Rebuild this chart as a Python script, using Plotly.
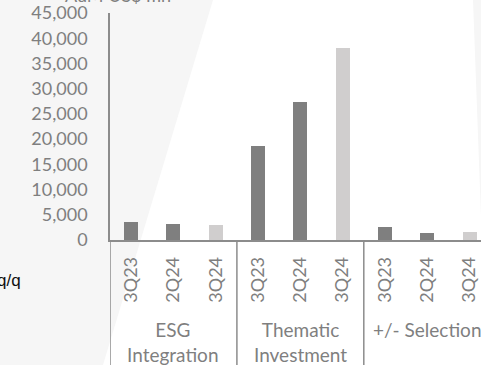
import plotly.graph_objects as go

# Chart data
groups = ["ESG<br>Integration", "Thematic<br>Investment", "+/- Selection"]
periods = ["3Q23", "2Q24", "3Q24"]
esg_integration = [3530, 3270, 3070]
thematic_investment = [18540, 27260, 38160]
selection = [2480, 1290, 1490]
y_ticks = [0, 5000, 10000, 15000, 20000, 25000, 30000, 35000, 40000, 45000]

values = esg_integration + thematic_investment + selection
labels = periods * len(groups)
x_idx = list(range(len(values)))

DARK = "#7f7f7f"
LIGHT = "#d0cece"
TEXT = "#7f7f7f"
AXIS = "#8c8c8c"
FONT = "Lato"

W, H = 481, 365
ML, MT, MB = 110, 13, 125
PW = W - ML
PH = H - MT - MB
CAT_W = 42.3


def px(x):
    return (x - ML) / PW


def py(y):
    return (H - MB - y) / PH


colors = [LIGHT if p == "3Q24" else DARK for p in labels]

fig = go.Figure(
    go.Bar(
        x=x_idx,
        y=values,
        width=0.33,
        marker=dict(color=colors, line=dict(width=0)),
        hoverinfo="skip",
    )
)

shapes = [
    # white backdrop panel
    dict(
        type="path",
        xref="paper",
        yref="paper",
        path=(
            f"M {px(213)} {py(0)} L {px(473)} {py(0)} L {px(481)} {py(217)} "
            f"L {px(481)} {py(365)} L {px(103)} {py(365)} Z"
        ),
        fillcolor="white",
        line=dict(width=0),
        layer="below",
    )
]
# category-group dividers below the axis
for xv in [-0.5, 2.5, 5.5]:
    shapes.append(
        dict(
            type="line",
            xref="x",
            yref="paper",
            x0=xv,
            x1=xv,
            y0=0,
            y1=py(H + 2),
            line=dict(color=AXIS, width=1.5),
        )
    )

annotations = []
for gi, g in enumerate(groups):
    annotations.append(
        dict(
            x=gi * 3 + 1,
            xref="x",
            y=py(316),
            yref="paper",
            yanchor="top",
            xanchor="center",
            text=g,
            showarrow=False,
            align="center",
            font=dict(family=FONT, size=19, color=TEXT),
        )
    )
annotations.append(
    dict(
        x=px(23),
        xref="paper",
        y=py(280),
        yref="paper",
        xanchor="right",
        yanchor="middle",
        text="q/q",
        showarrow=False,
        font=dict(family="Liberation Sans", size=17, color="#111111"),
    )
)
annotations.append(
    dict(
        x=px(63),
        xref="paper",
        y=py(8),
        yref="paper",
        xanchor="left",
        yanchor="bottom",
        text="AuM US$ mn",
        showarrow=False,
        font=dict(family=FONT, size=18, color=TEXT),
    )
)

fig.update_layout(
    width=W,
    height=H,
    margin=dict(l=ML, r=0, t=MT, b=MB, pad=0),
    paper_bgcolor="#f6f6f6",
    plot_bgcolor="rgba(0,0,0,0)",
    showlegend=False,
    shapes=shapes,
    annotations=annotations,
    bargap=0,
)
fig.update_xaxes(
    range=[-0.5, -0.5 + PW / CAT_W],
    tickmode="array",
    tickvals=x_idx,
    ticktext=labels,
    tickangle=-90,
    ticks="",
    ticklabelstandoff=8,
    tickfont=dict(family=FONT, size=18, color=TEXT),
    showline=True,
    linecolor=AXIS,
    linewidth=1.5,
    showgrid=False,
    zeroline=False,
)
fig.update_yaxes(
    range=[0, 45000],
    tickmode="array",
    tickvals=y_ticks,
    ticktext=[f"{v:,}" for v in y_ticks],
    ticks="",
    ticklabelstandoff=17,
    tickfont=dict(family=FONT, size=18, color=TEXT),
    showline=True,
    linecolor=AXIS,
    linewidth=1.5,
    showgrid=False,
    zeroline=False,
)

fig.write_html("out.html")
